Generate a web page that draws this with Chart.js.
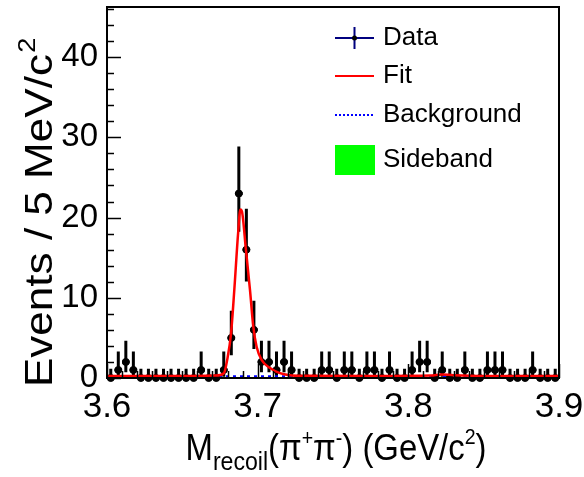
<!DOCTYPE html>
<html>
<head>
<meta charset="utf-8">
<script src="https://cdn.jsdelivr.net/npm/chart.js@4.4.1/dist/chart.umd.min.js"></script>
<style>
  html, body { margin: 0; padding: 0; background: #fff; }
  #wrap { width: 584px; height: 477px; }
</style>
</head>
<body>
<div id="wrap"><canvas id="c" width="584" height="477"></canvas></div>
<script>
// 5 MeV bins from 3.60 to 3.90 GeV/c^2
const binCenters = [
  3.6025, 3.6075, 3.6125, 3.6175, 3.6225, 3.6275, 3.6325, 3.6375, 3.6425, 3.6475,
  3.6525, 3.6575, 3.6625, 3.6675, 3.6725, 3.6775, 3.6825, 3.6875, 3.6925, 3.6975,
  3.7025, 3.7075, 3.7125, 3.7175, 3.7225, 3.7275, 3.7325, 3.7375, 3.7425, 3.7475,
  3.7525, 3.7575, 3.7625, 3.7675, 3.7725, 3.7775, 3.7825, 3.7875, 3.7925, 3.7975,
  3.8025, 3.8075, 3.8125, 3.8175, 3.8225, 3.8275, 3.8325, 3.8375, 3.8425, 3.8475,
  3.8525, 3.8575, 3.8625, 3.8675, 3.8725, 3.8775, 3.8825, 3.8875, 3.8925, 3.8975
];
const counts = [
  0, 1, 2, 1, 0, 0, 0, 0, 0, 0,
  0, 0, 1, 0, 0, 1, 5, 23, 16, 6,
  2, 2, 1, 2, 1, 0, 0, 0, 1, 1,
  0, 1, 1, 0, 1, 1, 0, 1, 0, 0,
  1, 2, 2, 0, 1, 0, 0, 1, 0, 0,
  1, 1, 1, 0, 0, 0, 1, 0, 0, 0
];
const sideband = [
  0, 0, 0, 0, 0, 0, 0, 0, 0, 0,
  0, 0, 0, 0, 0, 0, 0, 0, 0, 0,
  0, 0, 0, 0, 0, 0, 0, 0, 0, 0,
  0, 0, 0, 0, 0, 0, 0, 0, 0, 0,
  0, 0, 0, 0, 0, 0, 0, 0, 0, 0,
  0, 0, 0, 0, 0, 0, 0, 0, 0, 0
];
// asymmetric Poisson errors [low, high] for each observed count
const poissonErr = {
  0: [0, 1.15], 1: [0.83, 2.30], 2: [1.29, 2.64], 5: [2.16, 3.38],
  6: [2.38, 3.62], 16: [3.97, 5.10], 23: [4.77, 5.86]
};
const fitX = [3.600, 3.650, 3.672, 3.6776, 3.680, 3.6823, 3.6845, 3.687, 3.6885, 3.6895,
  3.6922, 3.6949, 3.6971, 3.6993, 3.7026, 3.7082, 3.7148, 3.7214, 3.730, 3.780,
  3.815, 3.822, 3.830, 3.850, 3.900];
const fitY = [0.25, 0.25, 0.3, 0.6, 2.5, 5.5, 11, 18, 21, 20.8,
  16, 11, 6.4, 3.9, 2.25, 1.25, 0.6, 0.35, 0.28, 0.25,
  0.3, 0.45, 0.35, 0.25, 0.25];
const bkgX = [3.6, 3.75, 3.9];
const bkgY = [0.15, 0.15, 0.15];
const xTicks = [3.6, 3.7, 3.8, 3.9];
const yTicks = [0, 10, 20, 30, 40];
const BIN_W = 0.005;

const FONT = '"Liberation Sans", Arial, sans-serif';

function pts(xs, ys) { return xs.map((x, i) => ({ x, y: ys[i] })); }

// no extra room for edge tick labels; the frame is placed by the layout padding
function noEdgePadding(scale) {
  scale.paddingTop = 0;
  scale.paddingBottom = 0;
  scale.paddingLeft = 0;
  scale.paddingRight = 0;
}

const frameAndBars = {
  id: 'frameAndBars',
  beforeDatasetsDraw(chart) {
    const { ctx, scales: { x, y } } = chart;
    ctx.save();
    // error bars
    ctx.strokeStyle = '#000';
    ctx.lineWidth = 3;
    counts.forEach((n, i) => {
      const e = poissonErr[n];
      const cx = x.getPixelForValue(binCenters[i]);
      ctx.beginPath();
      ctx.moveTo(cx, y.getPixelForValue(n - e[0]));
      ctx.lineTo(cx, y.getPixelForValue(n + e[1]));
      ctx.moveTo(x.getPixelForValue(binCenters[i] - BIN_W / 2), y.getPixelForValue(n));
      ctx.lineTo(x.getPixelForValue(binCenters[i] + BIN_W / 2), y.getPixelForValue(n));
      ctx.stroke();
    });
    ctx.restore();
  },
  afterDatasetsDraw(chart) {
    const { ctx, chartArea: a, scales: { x, y } } = chart;
    ctx.save();
    ctx.strokeStyle = '#000';
    ctx.lineWidth = 1.5;
    // inward ticks: y major 10, minor 2
    for (let v = 0; v <= 46; v += 2) {
      const py = Math.round(y.getPixelForValue(v)) + 0.5;
      const len = v % 10 === 0 ? 14 : 7;
      ctx.beginPath();
      ctx.moveTo(a.left, py);
      ctx.lineTo(a.left + len, py);
      ctx.stroke();
    }
    // x major 0.1, minor 0.01
    for (let k = 0; k <= 30; k++) {
      const px = Math.round(x.getPixelForValue(3.6 + k * 0.01)) + 0.5;
      const len = k % 10 === 0 ? 14 : 7;
      ctx.beginPath();
      ctx.moveTo(px, a.bottom);
      ctx.lineTo(px, a.bottom - len);
      ctx.stroke();
    }
    // frame
    ctx.lineWidth = 2;
    ctx.strokeRect(a.left, a.top, a.right - a.left, a.bottom - a.top);
    ctx.restore();
  },
  afterDraw(chart) {
    const { ctx } = chart;
    ctx.save();
    ctx.fillStyle = '#000';
    ctx.textBaseline = 'alphabetic';

    // y title
    ctx.save();
    ctx.translate(52, 213);
    ctx.rotate(-Math.PI / 2);
    ctx.scale(1.13, 1);
    const main = 'Events / 5 MeV/c';
    ctx.font = '39px ' + FONT;
    const wMain = ctx.measureText(main).width;
    ctx.font = '24px ' + FONT;
    const wSup = ctx.measureText('2').width;
    const sx = -(wMain + wSup) / 2;
    ctx.font = '39px ' + FONT;
    ctx.fillText(main, sx, 0);
    ctx.font = '24px ' + FONT;
    ctx.fillText('2', sx + wMain + 1, -17);
    ctx.restore();

    // x title with sub/superscripts
    const parts = [
      { t: 'M', s: 37, dy: 0 },
      { t: 'recoil', s: 26, dy: 10 },
      { t: '(\u03c0', s: 37, dy: 0 },
      { t: '+', s: 22, dy: -15 },
      { t: '\u03c0', s: 37, dy: 0 },
      { t: '-', s: 22, dy: -15 },
      { t: ') (GeV/c', s: 37, dy: 0 },
      { t: '2', s: 22, dy: -16 },
      { t: ')', s: 37, dy: 0 }
    ];
    let total = 0;
    parts.forEach(p => { ctx.font = p.s + 'px ' + FONT; p.w = ctx.measureText(p.t).width; total += p.w; });
    ctx.save();
    ctx.translate(336, 460);
    ctx.scale(301 / total, 1);
    let cx = -total / 2;
    parts.forEach(p => {
      ctx.font = p.s + 'px ' + FONT;
      ctx.fillText(p.t, cx, p.dy);
      cx += p.w;
    });
    ctx.restore();

    // legend
    const lx0 = 335, lx1 = 374, tx = 383;
    ctx.font = '26px ' + FONT;
    ctx.textBaseline = 'middle';
    ctx.lineWidth = 2;
    ctx.strokeStyle = '#00007f';
    ctx.beginPath();
    ctx.moveTo(lx0, 38); ctx.lineTo(lx1, 38);
    ctx.moveTo((lx0 + lx1) / 2, 27); ctx.lineTo((lx0 + lx1) / 2, 49);
    ctx.stroke();
    ctx.beginPath();
    ctx.arc((lx0 + lx1) / 2, 38, 2.5, 0, Math.PI * 2);
    ctx.fill();
    ctx.fillText('Data', tx, 38);

    ctx.strokeStyle = '#ff0000';
    ctx.beginPath(); ctx.moveTo(lx0, 76); ctx.lineTo(lx1, 76); ctx.stroke();
    ctx.fillText('Fit', tx, 76);

    ctx.strokeStyle = '#0000ff';
    ctx.setLineDash([2, 2]);
    ctx.beginPath(); ctx.moveTo(lx0, 115); ctx.lineTo(lx1, 115); ctx.stroke();
    ctx.setLineDash([]);
    ctx.fillText('Background', tx, 115);

    ctx.fillStyle = '#00ff00';
    ctx.fillRect(lx0, 145, lx1 - lx0 + 1, 30);
    ctx.fillStyle = '#000';
    ctx.fillText('Sideband', tx, 160);
    ctx.restore();
  }
};

new Chart(document.getElementById('c'), {
  type: 'scatter',
  data: {
    datasets: [
      {
        label: 'Data',
        data: pts(binCenters, counts),
        backgroundColor: '#000',
        borderColor: '#000',
        pointRadius: 3.5,
        pointHoverRadius: 3.5,
        clip: false,
        order: 2
      },
      {
        label: 'Sideband',
        type: 'line',
        data: pts(binCenters, sideband),
        stepped: 'middle',
        borderColor: '#006400',
        backgroundColor: '#00ff00',
        borderWidth: 1.5,
        pointRadius: 0,
        fill: 'origin',
        clip: false,
        order: 4
      },
      {
        label: 'Background',
        type: 'line',
        data: pts(bkgX, bkgY),
        borderColor: '#0000ff',
        borderWidth: 3,
        borderDash: [3, 4],
        pointRadius: 0,
        order: 3
      },
      {
        label: 'Fit',
        type: 'line',
        data: pts(fitX, fitY),
        borderColor: '#ff0000',
        borderWidth: 2.5,
        pointRadius: 0,
        cubicInterpolationMode: 'monotone',
        order: 1
      }
    ]
  },
  options: {
    responsive: false,
    animation: false,
    events: [],
    layout: { padding: { top: 7, right: 25, left: 0, bottom: 0 } },
    plugins: { legend: { display: false }, tooltip: { enabled: false } },
    scales: {
      x: {
        type: 'linear',
        min: 3.6,
        max: 3.9,
        grid: { display: false, drawTicks: false },
        border: { display: false },
        afterBuildTicks(scale) { scale.ticks = xTicks.map(v => ({ value: v })); },
        afterFit(scale) { scale.height = 99; noEdgePadding(scale); },
        ticks: {
          padding: 8,
          maxRotation: 0,
          autoSkip: false,
          color: '#000',
          font: { family: FONT, size: 35 },
          callback: v => v.toFixed(1)
        }
      },
      y: {
        min: 0,
        max: 46.25,
        grid: { display: false, drawTicks: false },
        border: { display: false },
        afterBuildTicks(scale) { scale.ticks = yTicks.map(v => ({ value: v })); },
        afterFit(scale) { scale.width = 107; noEdgePadding(scale); },
        ticks: {
          padding: 9,
          color: '#000',
          font: { family: FONT, size: 33 },
          callback: v => String(v)
        }
      }
    }
  },
  plugins: [frameAndBars]
});
</script>
</body>
</html>
